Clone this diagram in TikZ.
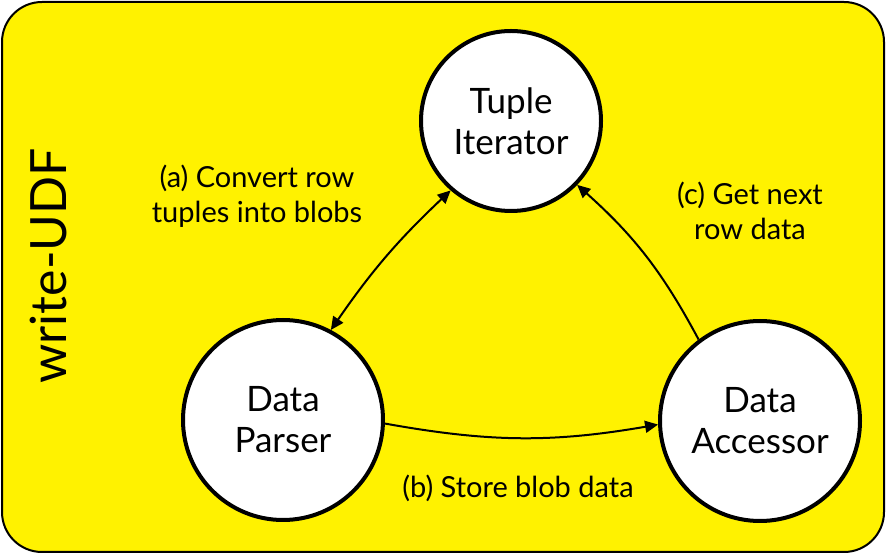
\documentclass[tikz,border=0pt]{standalone}
\usepackage{fontspec}
\setmainfont{Lato}
\usetikzlibrary{arrows.meta}
\begin{document}
\begin{tikzpicture}[x=1pt,y=1pt,
  >={Triangle[length=13pt,width=12pt]},
  stage/.style={circle, draw=black, line width=4pt, fill=white,
    minimum size=200pt, inner sep=0pt, align=center,
    font=\fontsize{35}{41}\selectfont},
  flow/.style={line width=2pt},
  note/.style={align=center, font=\fontsize{29}{35}\selectfont}]
\useasboundingbox (0,0) rectangle (886,554);
% frame
\draw[fill=yellow, line width=2pt, rounded corners=40pt] (2,2) rectangle (884,552);
% title
\node[rotate=90, font=\fontsize{50}{60}\selectfont] (title) at (48,288) {write-UDF};
% stages
\node[stage, minimum size=180pt] (ti) at (511,433) {Tuple\\Iterator};
\node[stage] (dp) at (283,134) {Data\\Parser};
\node[stage] (da) at (760,133) {Data\\Accessor};
% flows
\draw[flow, <->] (ti.229) to[bend right=6] (dp.62);
\draw[flow, ->] (dp.-2) to[bend right=10] (da.182);
\draw[flow, ->] (da.127) to[bend right=10] (ti.-44);
% labels
\node[note] (la) at (257,358) {(a) Convert row\\tuples into blobs};
\node[note] (lb) at (518,66) {(b) Store blob data};
\node[note] (lc) at (750,343) {(c) Get next\\row data};
\end{tikzpicture}
\end{document}
